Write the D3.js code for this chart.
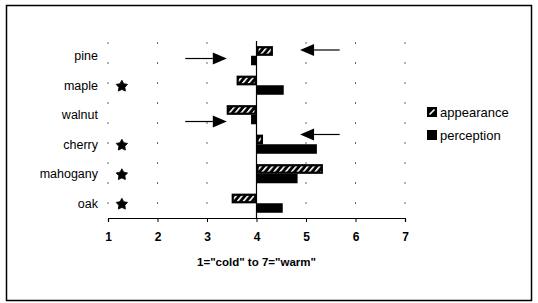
<!DOCTYPE html>
<html>
<head>
<meta charset="utf-8">
<script src="https://cdn.jsdelivr.net/npm/d3@7.9.0/dist/d3.min.js"></script>
<style>
  body { margin: 0; background: #fff; }
  svg { display: block; font-family: "Liberation Sans", Arial, sans-serif; }
</style>
</head>
<body>
<svg width="538" height="303"></svg>
<script>
// data
const woods = ['pine', 'maple', 'walnut', 'cherry', 'mahogany', 'oak'];
const appearance = [4.33, 3.6, 3.4, 4.13, 5.34, 3.5];
const perception = [3.89, 4.55, 3.89, 5.22, 4.83, 4.53];
const series = ['appearance', 'perception'];
const starred = ['maple', 'cherry', 'mahogany', 'oak'];
const ticks = [1, 2, 3, 4, 5, 6, 7];
// arrows: wood, which bar they sit next to, start and end value
const arrows = [
  { wood: 'pine', bar: 'perception', from: 2.56, to: 3.4, dy: -2 },
  { wood: 'walnut', bar: 'perception', from: 2.56, to: 3.4, dy: 2 },
  { wood: 'pine', bar: 'appearance', from: 5.68, to: 4.88, dy: -1 },
  { wood: 'cherry', bar: 'appearance', from: 5.68, to: 4.88, dy: -5 }
];

const svg = d3.select('svg');

// frame
svg.append('rect')
  .attr('x', 6.5).attr('y', 5.5)
  .attr('width', 525).attr('height', 295)
  .attr('fill', 'none').attr('stroke', '#000').attr('stroke-width', 1.5);

// hatch pattern
const defs = svg.append('defs');
const pat = defs.append('pattern')
  .attr('id', 'hatch')
  .attr('patternUnits', 'userSpaceOnUse')
  .attr('width', 4.5).attr('height', 4.5)
  .attr('patternTransform', 'rotate(40)');
pat.append('rect').attr('width', 4.5).attr('height', 4.5).attr('fill', '#000');
pat.append('rect').attr('x', 0).attr('y', 0).attr('width', 1.6).attr('height', 4.5).attr('fill', '#fff');

// scales
const x = d3.scaleLinear().domain([1, 7]).range([108, 405]);
const y = d3.scaleBand().domain(woods).range([41, 218]);
const y1 = d3.scaleBand().domain(series).range([0, y.bandwidth()]).paddingOuter(0.55);

// dotted gridlines
svg.append('g')
  .selectAll('line')
  .data(ticks.filter(t => t !== 4))
  .join('line')
  .attr('x1', d => x(d)).attr('x2', d => x(d))
  .attr('y1', 41).attr('y2', 218)
  .attr('stroke', '#666').attr('stroke-width', 1)
  .attr('stroke-dasharray', '2,18')
  .attr('stroke-dashoffset', -1);

// bars
const rows = woods.map((w, i) => ({ wood: w, appearance: appearance[i], perception: perception[i] }));
const barG = svg.append('g');
rows.forEach(r => {
  series.forEach(s => {
    const v = r[s];
    const x0 = Math.min(x(4), x(v));
    const w = Math.abs(x(v) - x(4));
    const yy = y(r.wood) + y1(s);
    if (s === 'appearance') {
      barG.append('rect')
        .attr('x', x0 + 1).attr('y', yy + 1)
        .attr('width', Math.max(w - 2, 0.5)).attr('height', y1.bandwidth() - 2)
        .attr('fill', 'url(#hatch)')
        .attr('stroke', '#000').attr('stroke-width', 2.2);
    } else {
      barG.append('rect')
        .attr('x', x0).attr('y', yy)
        .attr('width', w).attr('height', y1.bandwidth())
        .attr('fill', '#000');
    }
  });
});

// axis at 4
svg.append('line')
  .attr('x1', x(4)).attr('x2', x(4))
  .attr('y1', 41).attr('y2', 218)
  .attr('stroke', '#000').attr('stroke-width', 1.2);

// bottom axis
const xAxis = d3.axisBottom(x).tickValues(ticks).tickSize(4).tickFormat(d3.format('d'));
const ax = svg.append('g').attr('transform', 'translate(0,218)').call(xAxis);
ax.select('.domain').attr('stroke', '#000').attr('stroke-width', 1.2);
ax.selectAll('.tick line').attr('stroke', '#000');
ax.selectAll('.tick text')
  .attr('y', 14)
  .attr('font-size', 12).attr('font-weight', 'bold')
  .attr('font-family', '"Liberation Sans", Arial, sans-serif')
  .attr('fill', '#000');

// axis title
svg.append('text')
  .attr('x', x(4)).attr('y', 266)
  .attr('text-anchor', 'middle')
  .attr('font-size', 11.5).attr('font-weight', 'bold')
  .text('1="cold" to 7="warm"');

// category labels
svg.append('g')
  .selectAll('text')
  .data(woods)
  .join('text')
  .attr('x', 98)
  .attr('y', d => y(d) + y.bandwidth() / 2)
  .attr('dy', '0.35em')
  .attr('text-anchor', 'end')
  .attr('font-size', 12.5)
  .text(d => d);

// stars (chunky five-pointed)
const starPts = d3.range(10).map(i => {
  const a = i * Math.PI / 5;
  const r = i % 2 === 0 ? 6 : 3.2;
  return [a, r];
});
const starPath = d3.lineRadial().angle(d => d[0]).radius(d => d[1])(starPts) + 'Z';
svg.append('g')
  .selectAll('path')
  .data(starred)
  .join('path')
  .attr('d', starPath)
  .attr('transform', d => `translate(${x(1.28)},${y(d) + y.bandwidth() / 2 + 1})`)
  .attr('fill', '#000')
  .attr('stroke', '#000').attr('stroke-width', 0.8).attr('stroke-linejoin', 'round');

// arrows
const arrowG = svg.append('g');
arrows.forEach(a => {
  const ay = y(a.wood) + y1(a.bar) + y1.bandwidth() / 2 + a.dy;
  const dir = a.to > a.from ? 1 : -1;
  const tip = x(a.to);
  const base = tip - dir * 14;
  arrowG.append('line')
    .attr('x1', x(a.from)).attr('x2', base)
    .attr('y1', ay).attr('y2', ay)
    .attr('stroke', '#000').attr('stroke-width', 1.2);
  arrowG.append('path')
    .attr('d', d3.line()([[tip, ay], [base, ay - 6], [base, ay + 6]]) + 'Z')
    .attr('fill', '#000');
});

// legend
const legend = svg.append('g').attr('transform', 'translate(427,0)');
const legY = [112, 135];
legend.selectAll('rect')
  .data(series)
  .join('rect')
  .attr('x', 0).attr('y', (d, i) => legY[i] - 5)
  .attr('width', 10).attr('height', 10)
  .attr('fill', '#000');
legend.append('line')
  .attr('x1', 2.5).attr('y1', legY[0] + 2.5)
  .attr('x2', 7.5).attr('y2', legY[0] - 2.5)
  .attr('stroke', '#fff').attr('stroke-width', 1.6);
legend.selectAll('text')
  .data(series)
  .join('text')
  .attr('x', 13).attr('y', (d, i) => legY[i])
  .attr('dy', '0.35em')
  .attr('font-size', 13)
  .text(d => d);
</script>
</body>
</html>
